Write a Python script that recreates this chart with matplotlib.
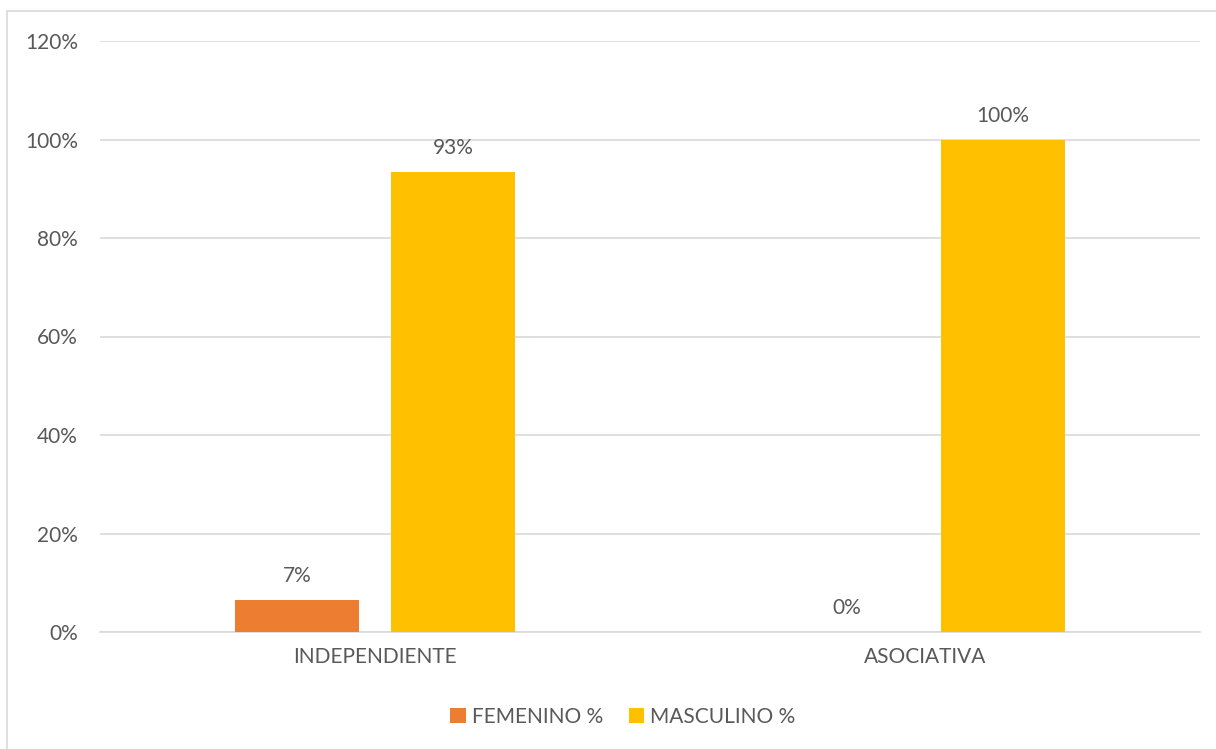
import matplotlib.pyplot as plt
import numpy as np
from matplotlib.patches import Rectangle

# data
categories = ["INDEPENDIENTE", "ASOCIATIVA"]
femenino = [6.5, 0.0]
masculino = [93.5, 100.0]
fem_labels = ["7%", "0%"]
masc_labels = ["93%", "100%"]
yticks = [0, 20, 40, 60, 80, 100, 120]

plt.rcParams['font.family'] = ['Lato', 'DejaVu Sans']
txt = "#595959"
fs = 15

fig = plt.figure(figsize=(12.16, 7.49), dpi=100)
ax = fig.add_axes([100/1216, 1 - 632/749, 1100/1216, (632 - 41)/749])

x = np.arange(len(categories))
w = 0.225
off = 0.142
b1 = ax.bar(x - off, femenino, w, color="#ED7D31", label="FEMENINO %", zorder=3)
b2 = ax.bar(x + off, masculino, w, color="#FFC000", label="MASCULINO %", zorder=3)

for bars, labs in ((b1, fem_labels), (b2, masc_labels)):
    for r, lab in zip(bars, labs):
        ax.annotate(lab, (r.get_x() + r.get_width()/2, r.get_height()),
                    xytext=(0, 10), textcoords="offset points",
                    ha="center", va="bottom", fontsize=fs, color=txt)

ax.set_xlim(-0.5, 1.5)
ax.set_ylim(0, 120)
ax.set_yticks(yticks)
ax.set_yticklabels([f"{v}%" for v in yticks])
ax.set_xticks(x)
ax.set_xticklabels(categories)
ax.tick_params(axis="both", length=0, labelsize=fs, labelcolor=txt)
ax.tick_params(axis="y", pad=16)
ax.tick_params(axis="x", pad=11)
ax.grid(axis="y", color="#D9D9D9", linewidth=1.2, zorder=0)
for s in ["top", "right", "left"]:
    ax.spines[s].set_visible(False)
ax.spines["bottom"].set_color("#D9D9D9")
ax.spines["bottom"].set_linewidth(1.2)

leg = fig.legend(loc="center", bbox_to_anchor=(623/1216, 1 - 717/749), ncol=2, frameon=False,
                 fontsize=fs, handlelength=0.75, handleheight=0.75, handletextpad=0.3,
                 columnspacing=1.2)
for t in leg.get_texts():
    t.set_color(txt)

# chart border
fig.patches.append(Rectangle((7/1216, -0.01), 1.1, 1 - 11/749 + 0.01, transform=fig.transFigure,
                             fill=False, edgecolor="#D9D9D9", linewidth=1.2))

fig.savefig("out.png", dpi=100)
